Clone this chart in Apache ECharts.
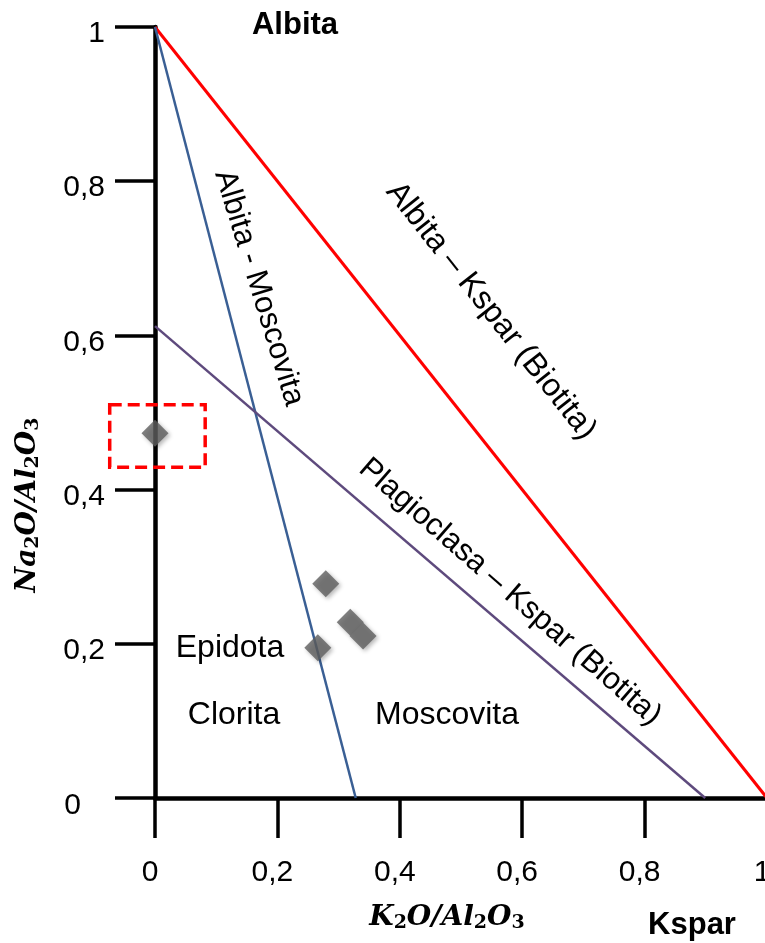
<!DOCTYPE html>
<html>
<head>
<meta charset="utf-8">
<script src="https://cdn.jsdelivr.net/npm/echarts@6/dist/echarts.min.js"></script>
<style>
  html, body { margin: 0; padding: 0; background: #fff; }
  #chart { width: 765px; height: 943px; }
</style>
</head>
<body>
<div id="chart"></div>
<script>
// ternary-like Na2O/Al2O3 vs K2O/Al2O3 diagram

const xTicks = [0, 0.2, 0.4, 0.6, 0.8, 1];
const yTicks = [0, 0.2, 0.4, 0.6, 0.8, 1];

// reference lines
const albitaKspar = [[0, 1], [1, 0]];
const albitaMoscovita = [[0, 1], [0.328, 0]];
const plagioclasaKspar = [[0, 0.612], [0.899, 0]];

// samples
const samples = [
  [0, 0.473],
  [0.279, 0.278],
  [0.319, 0.228],
  [0.340, 0.210],
  [0.266, 0.195]
];

// dashed box around the sample on the y axis: [x0, y0, x1, y1]
const highlightBox = [[-0.074, 0.429, 0.082, 0.510]];

const FONT = "'Liberation Sans', Arial, sans-serif";
const SERIF = "'DejaVu Serif', 'Liberation Serif', serif";

const fmt = v => String(v).replace('.', ',');
const deg = d => d * Math.PI / 180;

const chart = echarts.init(document.getElementById('chart'));

const option = {
  animation: false,
  backgroundColor: '#fff',
  grid: { left: 155, top: 27, width: 612, height: 771, outerBoundsMode: 'none', containLabel: false },
  xAxis: {
    type: 'value', min: 0, max: 1, interval: 0.2,
    axisLine: { show: true, lineStyle: { color: '#000', width: 4.5 } },
    axisTick: { show: true, length: 40, lineStyle: { color: '#000', width: 3.5 } },
    axisLabel: {
      margin: 60, color: '#000', fontSize: 30, fontFamily: FONT,
      padding: [0, 10, 0, 0],
      formatter: fmt
    },
    splitLine: { show: false }
  },
  yAxis: {
    type: 'value', min: 0, max: 1, interval: 0.2,
    axisLine: { show: true, lineStyle: { color: '#000', width: 4.5 } },
    axisTick: { show: true, length: 40, lineStyle: { color: '#000', width: 3.5 } },
    axisLabel: {
      margin: 50, color: '#000', fontSize: 30, fontFamily: FONT,
      padding: [14, 0, 0, 0],
      formatter: v => v === 0 ? '{z|0}' : fmt(v),
      rich: { z: { fontSize: 30, fontFamily: FONT, color: '#000', padding: [2, 24, 0, 0] } }
    },
    splitLine: { show: false }
  },
  series: [
    {
      type: 'line', data: albitaKspar, symbol: 'none', z: 3,
      lineStyle: { color: '#ff0000', width: 3 }
    },
    {
      type: 'line', data: albitaMoscovita, symbol: 'none', z: 3,
      lineStyle: { color: '#3a5f94', width: 2.5 }
    },
    {
      type: 'line', data: plagioclasaKspar, symbol: 'none', z: 3,
      lineStyle: { color: '#5e4a7d', width: 2.5 }
    },
    {
      type: 'custom', data: highlightBox, clip: false, z: 4,
      renderItem: (params, api) => {
        const p0 = api.coord([api.value(0), api.value(3)]);
        const p1 = api.coord([api.value(2), api.value(1)]);
        return {
          type: 'rect',
          shape: { x: p0[0], y: p0[1], width: p1[0] - p0[0], height: p1[1] - p0[1] },
          style: { fill: 'none', stroke: '#ff0000', lineWidth: 3.5, lineDash: [12, 6] }
        };
      }
    },
    {
      type: 'scatter', data: samples, symbol: 'diamond', symbolSize: 27, clip: false, z: 5,
      itemStyle: {
        color: '#5f5f5f',
        shadowColor: 'rgba(0,0,0,0.35)', shadowBlur: 4, shadowOffsetX: 2, shadowOffsetY: 2
      }
    }
  ],
  graphic: [
    { type: 'text', x: 295, y: 25, style: { text: 'Albita', font: 'bold 31px ' + FONT, fill: '#000', align: 'center', verticalAlign: 'middle' } },
    { type: 'text', x: 692, y: 925, style: { text: 'Kspar', font: 'bold 31px ' + FONT, fill: '#000', align: 'center', verticalAlign: 'middle' } },
    {
      type: 'text', x: 447, y: 918,
      style: {
        text: '{m|K}{s|2}{m|O/Al}{s|2}{m|O}{s|3}', align: 'center', verticalAlign: 'middle',
        rich: {
          m: { font: 'bold italic 28px ' + SERIF, fill: '#000' },
          s: { font: 'bold 19px ' + SERIF, fill: '#000', padding: [10, 0, 0, 0] }
        }
      }
    },
    {
      type: 'text', x: 28, y: 505, rotation: deg(90),
      style: {
        text: '{m|Na}{s|2}{m|O/Al}{s|2}{m|O}{s|3}', align: 'center', verticalAlign: 'middle',
        rich: {
          m: { font: 'bold italic 28px ' + SERIF, fill: '#000' },
          s: { font: 'bold 19px ' + SERIF, fill: '#000', padding: [10, 0, 0, 0] }
        }
      }
    },
    { type: 'text', x: 259, y: 288, rotation: deg(-73), style: { text: 'Albita - Moscovita', font: '31px ' + FONT, fill: '#000', align: 'center', verticalAlign: 'middle' } },
    { type: 'text', x: 491, y: 311, rotation: deg(-51.6), style: { text: 'Albita – Kspar (Biotita)', font: '32px ' + FONT, fill: '#000', align: 'center', verticalAlign: 'middle' } },
    { type: 'text', x: 510, y: 592, rotation: deg(-41), style: { text: 'Plagioclasa – Kspar (Biotita)', font: '31px ' + FONT, fill: '#000', align: 'center', verticalAlign: 'middle' } },
    { type: 'text', x: 230, y: 648, style: { text: 'Epidota', font: '32px ' + FONT, fill: '#000', align: 'center', verticalAlign: 'middle' } },
    { type: 'text', x: 234, y: 715, style: { text: 'Clorita', font: '32px ' + FONT, fill: '#000', align: 'center', verticalAlign: 'middle' } },
    { type: 'text', x: 447, y: 715, style: { text: 'Moscovita', font: '32px ' + FONT, fill: '#000', align: 'center', verticalAlign: 'middle' } }
  ]
};

chart.setOption(option);
</script>
</body>
</html>
